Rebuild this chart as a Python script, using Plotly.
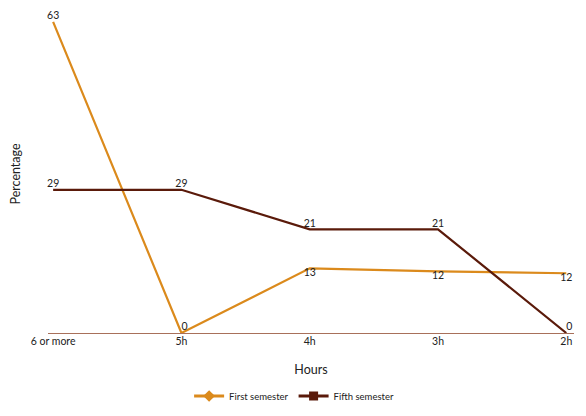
import plotly.graph_objects as go

hours = ["6 or more", "5h", "4h", "3h", "2h"]
first_semester = [63, 0, 13.1, 12.5, 12.1]
first_labels = ["63", "0", "13", "12", "12"]
fifth_semester = [29, 29, 21, 21, 0]
fifth_labels = ["29", "29", "21", "21", "0"]

ORANGE = "#DB8A1C"
BROWN = "#5A1A0A"
FONT = "Lato"

xs = list(range(len(hours)))

fig = go.Figure()
fig.add_trace(go.Scatter(
    x=xs, y=first_semester, mode="lines+text", text=first_labels,
    textposition=["top center", "top right", "bottom center", "bottom center", "bottom center"],
    line=dict(color=ORANGE, width=2.2), textfont=dict(size=10.5, color="#222"),
    showlegend=False, cliponaxis=False))
fig.add_trace(go.Scatter(
    x=xs, y=fifth_semester, mode="lines+text", text=fifth_labels,
    textposition=["top center", "top center", "top center", "top center", "top right"],
    line=dict(color=BROWN, width=2.2), textfont=dict(size=10.5, color="#222"),
    showlegend=False, cliponaxis=False))
fig.add_trace(go.Scatter(
    x=[None], y=[None], mode="lines+markers", name="First semester",
    line=dict(color=ORANGE, width=3), marker=dict(symbol="diamond", size=9, color=ORANGE)))
fig.add_trace(go.Scatter(
    x=[None], y=[None], mode="lines+markers", name="Fifth semester",
    line=dict(color=BROWN, width=3), marker=dict(symbol="square", size=9, color=BROWN)))

fig.update_layout(
    width=578, height=400,
    margin=dict(l=40, r=12, t=7, b=75),
    paper_bgcolor="white", plot_bgcolor="white",
    font=dict(family=FONT, size=10.5, color="#222"),
    legend=dict(orientation="h", xref="container", yref="container",
                x=0.495, y=0.03, xanchor="center", yanchor="middle",
                font=dict(size=9.5), itemwidth=30),
)
fig.update_xaxes(
    range=[-0.04, 4.06], tickvals=xs, ticktext=hours, showgrid=False,
    showline=True, linecolor="#A8705A", linewidth=1, zeroline=False,
    ticks="", tickfont=dict(size=10.5), automargin=False, ticklabelstandoff=-2,
    title=dict(text="Hours", font=dict(size=12.5), standoff=19))
fig.update_yaxes(
    range=[0, 64.4], showticklabels=False, showgrid=False, zeroline=False,
    showline=False, ticks="", automargin=False,
    title=dict(text="Percentage", font=dict(size=12.5), standoff=24))

fig.write_html("out.html")
